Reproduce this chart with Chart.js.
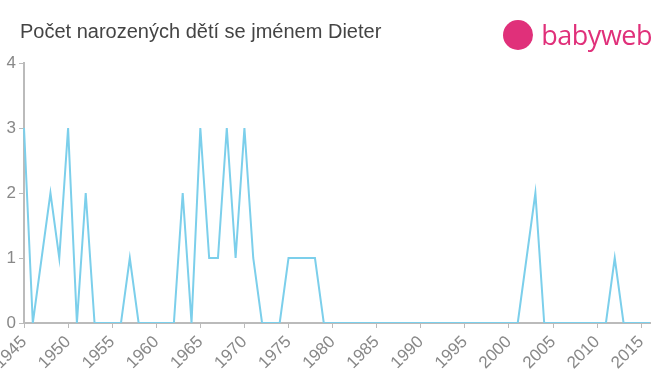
<!DOCTYPE html>
<html lang="cs">
<head>
  <meta charset="UTF-8" />
  <title>Počet narozených dětí se jménem Dieter</title>
  <script src="https://cdn.jsdelivr.net/npm/chart.js"></script>
  <style>
    body {
      margin: 0;
      background: #fff;
      font-family: "Liberation Sans", Arial, sans-serif;
    }
    .wrap {
      position: relative;
      width: 660px;
      height: 375px;
    }
    h1 {
      position: absolute;
      left: 20px;
      top: 20px;
      margin: 0;
      font-size: 20px;
      font-weight: normal;
      color: #444;
    }
    .logo {
      position: absolute;
      right: 8px;
      top: 16px;
      display: flex;
      align-items: center;
      color: #e0307a;
      font-size: 27px;
      font-family: "Open Sans", sans-serif;
      letter-spacing: -0.5px;
    }
    .logo .dot {
      width: 30px;
      height: 30px;
      border-radius: 50%;
      background: #e0307a;
      margin-right: 8px;
    }
    canvas {
      position: absolute;
      left: 0;
      top: 0;
    }
  </style>
</head>
<body>
  <div class="wrap">
    <canvas id="chart" width="660" height="375"></canvas>
    <h1>Počet narozených dětí se jménem Dieter</h1>
    <div class="logo"><span class="dot"></span>babyweb</div>
  </div>

  <script>
    const years = [];
    for (let y = 1945; y <= 2016; y++) years.push(String(y));

    // births per year 1945 - 2016
    const births = [
      3, 0, 1, 2, 1, 3, 0, 2, 0, 0,   // 1945-1954
      0, 0, 1, 0, 0, 0, 0, 0, 2, 0,   // 1955-1964
      3, 1, 1, 3, 1, 3, 1, 0, 0, 0,   // 1965-1974
      1, 1, 1, 1, 0, 0, 0, 0, 0, 0,   // 1975-1984
      0, 0, 0, 0, 0, 0, 0, 0, 0, 0,   // 1985-1994
      0, 0, 0, 0, 0, 0, 0, 1, 2, 0,   // 1995-2004
      0, 0, 0, 0, 0, 0, 0, 1, 0, 0,   // 2005-2014
      0, 0                            // 2015-2016
    ];

    const yTicks = [0, 1, 2, 3, 4];

    new Chart(document.getElementById('chart'), {
      type: 'line',
      data: {
        labels: years,
        datasets: [{
          data: births,
          borderColor: '#7ccfeb',
          borderWidth: 2,
          pointRadius: 0,
          tension: 0,
          fill: false
        }]
      },
      options: {
        responsive: false,
        animation: false,
        layout: { padding: { top: 63, right: 10, left: 0, bottom: 0 } },
        plugins: { legend: { display: false }, tooltip: { enabled: false } },
        scales: {
          x: {
            afterFit: function (axis) {
              axis.height = 52;
              axis.paddingLeft = 0;
              axis.paddingRight = 0;
            },
            grid: { drawOnChartArea: false, color: '#bbb', tickLength: 5 },
            border: { color: '#bbb', width: 2 },
            ticks: {
              autoSkip: false,
              maxRotation: 45,
              minRotation: 45,
              color: '#888',
              font: { size: 17 },
              padding: 4,
              callback: function (v, i) {
                const y = Number(years[i]);
                return y % 5 === 0 ? years[i] : null;
              }
            }
          },
          y: {
            min: 0,
            max: 4,
            afterFit: function (axis) { axis.width = 24; },
            grid: { drawOnChartArea: false, color: '#bbb', tickLength: 5 },
            border: { color: '#bbb', width: 2 },
            afterBuildTicks: function (axis) {
              axis.ticks = yTicks.map(v => ({ value: v }));
            },
            ticks: {
              color: '#888',
              font: { size: 17 },
              padding: 3
            }
          }
        }
      }
    });
  </script>
</body>
</html>
